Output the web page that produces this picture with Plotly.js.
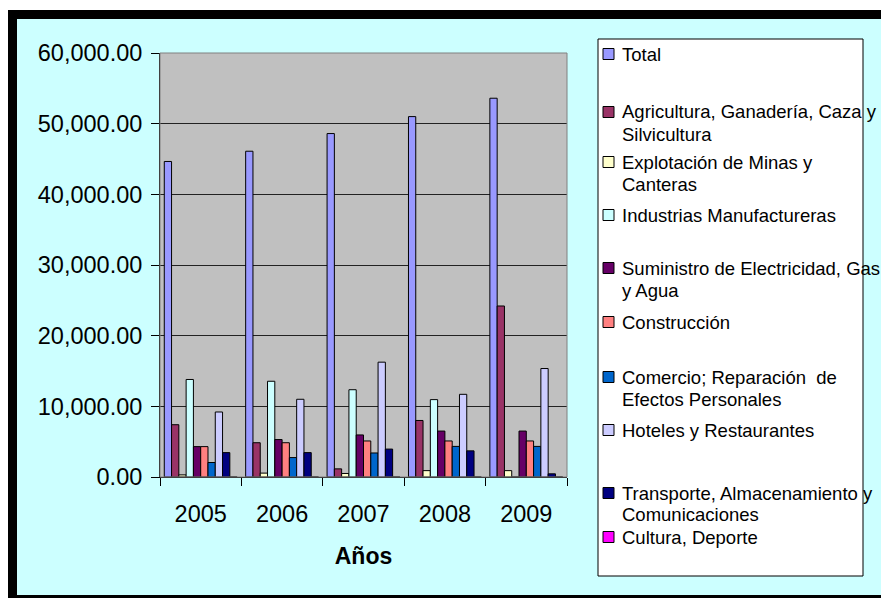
<!DOCTYPE html>
<html>
<head>
<meta charset="utf-8">
<script src="https://cdn.plot.ly/plotly-3.0.1.min.js"></script>
<style>
  html, body { margin:0; padding:0; background:#ffffff; width:881px; height:598px; overflow:hidden; }
  #frame { position:absolute; left:8px; top:10px; width:900px; height:600px; background:#000000; }
  #chart { position:absolute; left:17px; top:19px; width:864px; height:576px; }
</style>
</head>
<body>
<div id="frame"></div>
<div id="chart"></div>
<script>
// ---- data ----
var years = ["2005", "2006", "2007", "2008", "2009"];
var seriesNames = [
  "Total",
  "Agricultura, Ganadería, Caza y Silvicultura",
  "Explotación de Minas y Canteras",
  "Industrias Manufactureras",
  "Suministro de Electricidad, Gas y Agua",
  "Construcción",
  "Comercio; Reparación  de Efectos Personales",
  "Hoteles y Restaurantes",
  "Transporte, Almacenamiento y Comunicaciones",
  "Cultura, Deporte"
];
var total       = [44650, 46100, 48600, 51000, 53600];
var agricultura = [7400, 4850, 1150, 8000, 24200];
var minas       = [300, 550, 500, 900, 900];
var industrias  = [13800, 13550, 12350, 10950, 0];
var suministro  = [4300, 5300, 5950, 6500, 6500];
var construccion= [4300, 4850, 5100, 5100, 5100];
var comercio    = [2050, 2750, 3400, 4330, 4330];
var hoteles     = [9200, 11000, 16250, 11700, 15350];
var transporte  = [3450, 3450, 3950, 3700, 450];
var cultura     = [0, 0, 0, 0, 0];
var seriesValues = [total, agricultura, minas, industrias, suministro, construccion, comercio, hoteles, transporte, cultura];

// legend text (wrapped as in the reference)
var legendLabels = [
  "Total",
  "Agricultura, Ganadería, Caza y<br>Silvicultura",
  "Explotación de Minas y<br>Canteras",
  "Industrias Manufactureras",
  "Suministro de Electricidad, Gas<br>y Agua",
  "Construcción",
  "Comercio; Reparación  de<br>Efectos Personales",
  "Hoteles y Restaurantes",
  "Transporte, Almacenamiento y<br>Comunicaciones",
  "Cultura, Deporte"
];

// ---- styles / layout ----
var seriesColors = ["#9999FF", "#993366", "#FFFFCC", "#CCFFFF", "#660066", "#FF8080", "#0066CC", "#CCCCFF", "#000080", "#FF00FF"];
var legendRowY = [35, 93, 143, 196, 249, 303, 358, 411, 474, 518]; // px within chart div (first line centre)
var lineStep = 22;

var W = 864, H = 576;
var M = {l:143, r:314, t:34, b:118};
var pw = W - M.l - M.r, ph = H - M.t - M.b;
function px2x(px){ return (px - M.l) / pw; }
function px2y(py){ return 1 - (py - M.t) / ph; }

var FONT = "Liberation Sans, Arial, sans-serif";

var traces = seriesValues.map(function(vals, i){
  return {
    type: "bar",
    name: seriesNames[i],
    x: years,
    y: vals,
    marker: { color: seriesColors[i], line: { color: "#000000", width: 1 } },
    showlegend: false,
    hoverinfo: "x+y+name"
  };
});

var shapes = [];
var annotations = [];

// plot area border (gray)
shapes.push({ type:"rect", xref:"paper", yref:"paper", x0:0, x1:1, y0:0, y1:1,
  line:{ color:"#808080", width:1 }, fillcolor:"rgba(0,0,0,0)", layer:"above" });

// legend box
shapes.push({ type:"rect", xref:"paper", yref:"paper",
  x0:px2x(581), x1:px2x(846), y0:px2y(557), y1:px2y(20),
  line:{ color:"#000000", width:1 }, fillcolor:"#FFFFFF", layer:"below" });

legendLabels.forEach(function(lbl, i){
  var cy = legendRowY[i];
  shapes.push({ type:"rect", xref:"paper", yref:"paper",
    x0:px2x(586), x1:px2x(597), y0:px2y(cy + 5.5), y1:px2y(cy - 5.5),
    line:{ color:"#000000", width:1 }, fillcolor:seriesColors[i], layer:"above" });
  lbl.split("<br>").forEach(function(line, k){
    annotations.push({ xref:"paper", yref:"paper", x:px2x(603), y:px2y(cy + k*lineStep),
      xanchor:"left", yanchor:"middle", showarrow:false, text:line,
      font:{ family:FONT, size:18.5, color:"#000000" } });
  });
});

var layout = {
  width: W, height: H,
  margin: M,
  paper_bgcolor: "#CCFFFF",
  plot_bgcolor: "#C0C0C0",
  barmode: "group",
  bargap: 0.105,
  bargroupgap: 0,
  showlegend: false,
  font: { family: FONT, color: "#000000" },
  xaxis: {
    type: "category",
    tickson: "boundaries",
    ticks: "outside", ticklen: 8, tickcolor: "#000000", tickwidth: 1,
    showline: true, linecolor: "#000000", linewidth: 1,
    showgrid: false,
    ticklabelstandoff: 16,
    tickfont: { family: FONT, size: 23.5, color: "#000000" },
    title: { text: "<b>Años</b>", font: { family: FONT, size: 23, color: "#000000" }, standoff: 21 }
  },
  yaxis: {
    range: [0, 60000], dtick: 10000,
    tickformat: ",.2f",
    ticks: "outside", ticklen: 8, tickcolor: "#000000", tickwidth: 1,
    showline: true, linecolor: "#000000", linewidth: 1,
    showgrid: true, gridcolor: "#222222", gridwidth: 1,
    zeroline: false,
    ticklabelstandoff: 4,
    tickfont: { family: FONT, size: 23.5, color: "#000000" }
  },
  shapes: shapes,
  annotations: annotations
};

Plotly.newPlot("chart", traces, layout, { displayModeBar: false, staticPlot: true });
</script>
</body>
</html>
